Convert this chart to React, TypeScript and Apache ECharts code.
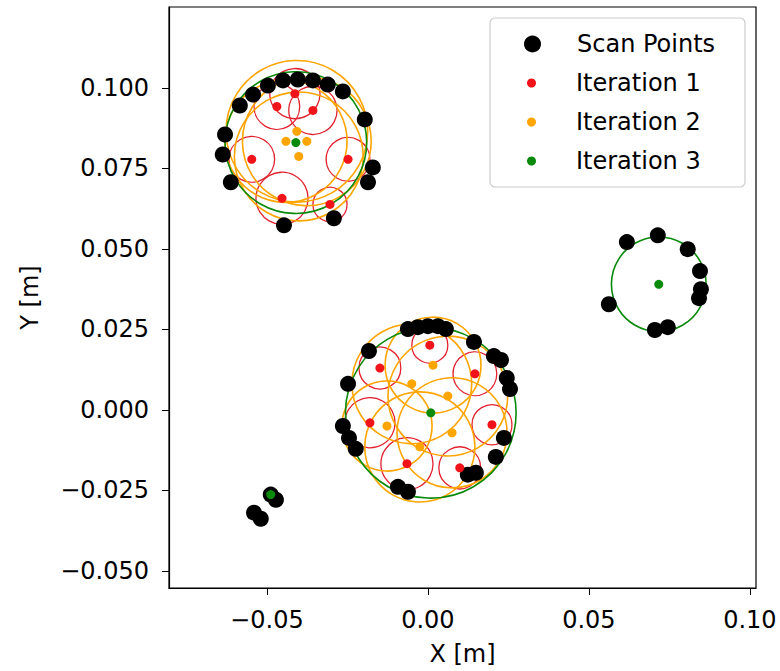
import React, { useEffect, useRef } from "react";
import * as echarts from "echarts";

// Scan points [x, y] in metres
const scanPoints: [number, number][] = [
  // top-left cluster
  [-0.0584, 0.0945], [-0.0543, 0.0979], [-0.0497, 0.1007], [-0.045, 0.1023],
  [-0.0404, 0.1026], [-0.0357, 0.1023], [-0.0311, 0.101], [-0.0264, 0.0989],
  [-0.0196, 0.0902], [-0.0171, 0.0753], [-0.0186, 0.0707], [-0.063, 0.0855],
  [-0.0637, 0.0793], [-0.0612, 0.0707], [-0.0447, 0.0573], [-0.0292, 0.0595],
  // centre cluster
  [-0.0062, 0.0251], [-0.0031, 0.0257], [0.0, 0.026], [0.0031, 0.026],
  [0.0056, 0.0251], [0.0143, 0.0211], [-0.0183, 0.0183], [0.0205, 0.0167],
  [0.0227, 0.0155], [0.0245, 0.0099], [0.0255, 0.0065], [-0.0248, 0.0081],
  [-0.0264, -0.005], [-0.0245, -0.0087], [-0.0224, -0.0121], [0.0236, -0.0087],
  [0.0211, -0.0146], [0.0124, -0.0201], [0.0149, -0.0195], [-0.0093, -0.0239],
  [-0.0062, -0.0254],
  // right cluster
  [0.0618, 0.0521], [0.0714, 0.0542], [0.0807, 0.0499], [0.0845, 0.0431],
  [0.0848, 0.0375], [0.0842, 0.0347], [0.0562, 0.0328], [0.0705, 0.0248],
  [0.0745, 0.0257],
  // bottom-left cluster
  [-0.0488, -0.0263], [-0.0472, -0.0279], [-0.054, -0.0319], [-0.0519, -0.0338],
];

// Fitted circles per iteration: [centre x, centre y, radius]
const iteration1: [number, number, number][] = [
  [-0.0413, 0.0982, 0.0078], [-0.0469, 0.0942, 0.0071], [-0.0357, 0.093, 0.0075],
  [-0.0547, 0.0778, 0.0071], [-0.0248, 0.0778, 0.0068], [-0.0453, 0.0657, 0.0081],
  [-0.0304, 0.0638, 0.0053],
  [0.0006, 0.0201, 0.0056], [-0.0149, 0.013, 0.0065], [0.0146, 0.0112, 0.0068],
  [-0.018, -0.004, 0.0078], [0.0199, -0.0046, 0.0062], [-0.0065, -0.0167, 0.0081],
  [0.0099, -0.018, 0.0065],
];

const iteration2: [number, number, number][] = [
  [-0.0441, 0.0834, 0.019], [-0.0407, 0.0865, 0.022], [-0.0376, 0.0834, 0.02],
  [-0.0401, 0.0787, 0.02],
  [0.0016, 0.0139, 0.0149], [-0.005, 0.0081, 0.0186], [0.0062, 0.0043, 0.0186],
  [-0.0127, -0.005, 0.014], [0.0075, -0.0071, 0.0171], [-0.0025, -0.0115, 0.0171],
];

const iteration3: [number, number, number][] = [
  [-0.041, 0.083, 0.022], [0.0009, -0.0009, 0.0265], [0.0717, 0.039, 0.0147],
  [-0.0488, -0.0263, 0.001],
];

const xTicks = [-0.05, 0, 0.05, 0.1];
const yTicks = [-0.05, -0.025, 0, 0.025, 0.05, 0.075, 0.1];

const FONT = "DejaVu Sans";
const FS = 24;

const fmt = (d: number) => (v: number) => v.toFixed(d).replace("-", "\u2212");

function circleSeries(name: string, data: [number, number, number][], color: string, width: number) {
  return {
    type: "custom",
    name,
    data,
    encode: { x: 0, y: 1 },
    silent: true,
    renderItem: (_p: any, api: any) => {
      const c = api.coord([api.value(0), api.value(1)]);
      const s = api.size([api.value(2), api.value(2)]);
      return {
        type: "circle",
        shape: { cx: c[0], cy: c[1], r: s[0] },
        style: { fill: "none", stroke: color, lineWidth: width },
      };
    },
  };
}

function dotSeries(name: string, data: [number, number, number][], color: string) {
  return {
    type: "scatter",
    name,
    data: data.map((d) => [d[0], d[1]]),
    symbol: "circle",
    symbolSize: 9,
    itemStyle: { color, opacity: 1 },
    silent: true,
  };
}

export default function App() {
  const ref = useRef<HTMLDivElement>(null);
  useEffect(() => {
    if (!ref.current) return;
    const chart = echarts.init(ref.current, undefined, { renderer: "svg" });
    const RED = "#f0141a";
    const ORANGE = "#ffa500";
    const GREEN = "#0a8a0a";
    chart.setOption({
      animation: false,
      textStyle: { fontFamily: FONT },
      grid: {
        left: 169, right: 24, top: 7, bottom: 82,
        show: true, borderColor: "#000", borderWidth: 1.2, backgroundColor: "#fff",
      },
      xAxis: {
        type: "value", min: -0.0804, max: 0.1019,
        name: "X [m]", nameLocation: "middle", nameGap: 54,
        nameTextStyle: { fontFamily: FONT, fontSize: FS, color: "#000" },
        axisLine: { show: true, onZero: false, lineStyle: { color: "#000", width: 1.2 } },
        axisTick: { show: true, length: 7, customValues: xTicks, lineStyle: { color: "#000" } },
        axisLabel: { customValues: xTicks, formatter: fmt(2), fontFamily: FONT, fontSize: FS, color: "#000", margin: 20 },
        splitLine: { show: false },
      },
      yAxis: {
        type: "value", min: -0.0553, max: 0.1251,
        name: "Y [m]", nameLocation: "middle", nameGap: 127,
        nameTextStyle: { fontFamily: FONT, fontSize: FS, color: "#000" },
        axisLine: { show: true, onZero: false, lineStyle: { color: "#000", width: 1.2 } },
        axisTick: { show: true, length: 7, customValues: yTicks, lineStyle: { color: "#000" } },
        axisLabel: { customValues: yTicks, formatter: fmt(3), fontFamily: FONT, fontSize: FS, color: "#000", margin: 20 },
        splitLine: { show: false },
      },
      graphic: [
        {
          type: "rect", z: 50,
          shape: { x: 490, y: 18, width: 255, height: 169, r: 5 },
          style: { fill: "rgba(255,255,255,0.85)", stroke: "#cccccc", lineWidth: 1.2 },
        },
      ],
      legend: [
        {
          z: 60, left: 519, top: 24, orient: "vertical",
          itemWidth: 17, itemHeight: 17, icon: "circle",
          data: ["Scan Points"],
          textStyle: { fontFamily: FONT, fontSize: FS, color: "#000", lineHeight: 30, padding: [0, 0, 0, 31] },
          selectedMode: false,
        },
        {
          z: 60, left: 522, top: 63, orient: "vertical",
          itemWidth: 9, itemHeight: 9, itemGap: 9, icon: "circle",
          data: ["Iteration 1", "Iteration 2", "Iteration 3"],
          textStyle: { fontFamily: FONT, fontSize: FS, color: "#000", lineHeight: 30, padding: [0, 0, 0, 35] },
          selectedMode: false,
        },
      ],
      series: [
        {
          type: "scatter", name: "Scan Points", data: scanPoints,
          symbol: "circle", symbolSize: 16, itemStyle: { color: "#000", opacity: 1 }, silent: true,
        },
        circleSeries("Iteration 1 circles", iteration1, "#e2222e", 1.3),
        dotSeries("Iteration 1", iteration1, RED),
        circleSeries("Iteration 2 circles", iteration2, ORANGE, 1.6),
        dotSeries("Iteration 2", iteration2, ORANGE),
        circleSeries("Iteration 3 circles", iteration3, GREEN, 1.6),
        dotSeries("Iteration 3", iteration3, GREEN),
      ],
    });
    return () => chart.dispose();
  }, []);
  return (
    <div
      ref={ref}
      style={{ position: "absolute", left: 0, top: 0, width: 780, height: 671, background: "#fff" }}
    />
  );
}
